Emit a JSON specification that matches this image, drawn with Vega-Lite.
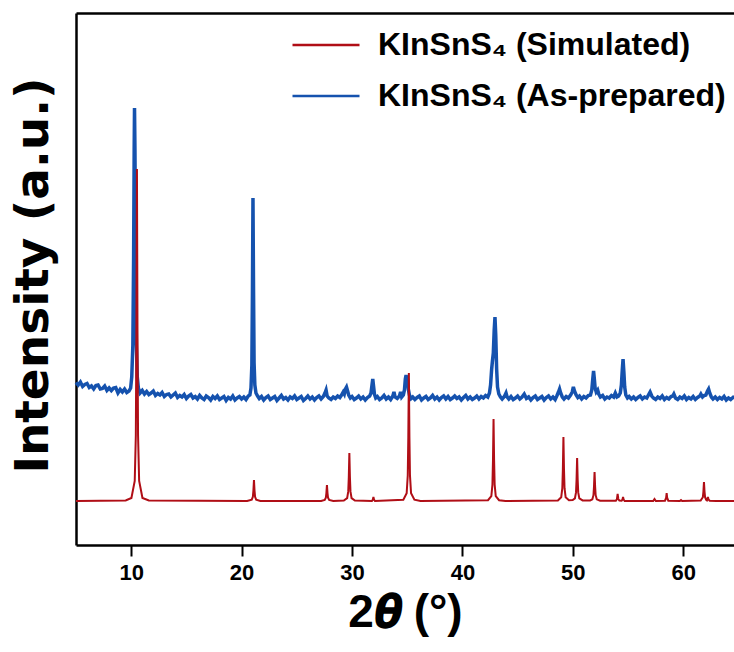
{
"$schema": "https://vega.github.io/schema/vega-lite/v6.json",
"width": 658,
"height": 532,
"autosize": {"type": "none"},
"padding": {"left": 76, "top": 13, "right": 0, "bottom": 107},
"background": "white",
"config": {"view": {"stroke": null}},
"datasets": {
"blue": [
{"x":5.0,"y":162.5},{"x":5.2,"y":160},{"x":5.4,"y":163},{"x":5.6,"y":158.5},{"x":5.8,"y":160.5},{"x":6.0,"y":161.5},{"x":6.2,"y":157.5},{"x":6.4,"y":159},{"x":6.6,"y":156},{"x":6.8,"y":159.5},{"x":7.0,"y":160},{"x":7.2,"y":156},{"x":7.4,"y":156.5},{"x":7.6,"y":159},{"x":7.8,"y":154.5},{"x":8.0,"y":157},{"x":8.2,"y":154.5},{"x":8.4,"y":157},{"x":8.6,"y":157.5},{"x":8.8,"y":152},{"x":9.0,"y":155.5},{"x":9.2,"y":153},{"x":9.4,"y":156},{"x":9.6,"y":152.5},{"x":9.8,"y":154},{"x":9.95,"y":157},
{"x":10.05,"y":168},{"x":10.15,"y":200},{"x":10.22,"y":290},{"x":10.27,"y":395},{"x":10.3,"y":437},{"x":10.34,"y":395},{"x":10.4,"y":290},{"x":10.47,"y":200},{"x":10.55,"y":168},{"x":10.65,"y":157},
{"x":10.8,"y":152},{"x":11.0,"y":154.5},{"x":11.2,"y":151},{"x":11.4,"y":153.5},{"x":11.6,"y":150.5},{"x":11.8,"y":152},{"x":12.0,"y":154},{"x":12.2,"y":149.5},{"x":12.4,"y":151.5},{"x":12.6,"y":150},{"x":12.8,"y":152.5},{"x":13.0,"y":148.5},{"x":13.2,"y":150.5},{"x":13.4,"y":151},{"x":13.6,"y":148},{"x":13.8,"y":150},{"x":14.0,"y":152},{"x":14.2,"y":147.5},{"x":14.4,"y":149.5},{"x":14.6,"y":148},{"x":14.8,"y":150.5},{"x":15.0,"y":146.5},{"x":15.2,"y":149},{"x":15.4,"y":150.5},{"x":15.6,"y":147},{"x":15.8,"y":148.5},{"x":16.0,"y":146},{"x":16.2,"y":149.5},{"x":16.4,"y":147},{"x":16.6,"y":145.5},{"x":16.8,"y":149},{"x":17.0,"y":147.5},{"x":17.2,"y":145},{"x":17.4,"y":148.5},{"x":17.6,"y":146.5},{"x":17.8,"y":149},{"x":18.0,"y":145.5},{"x":18.2,"y":147},{"x":18.4,"y":148.5},{"x":18.6,"y":144.5},{"x":18.8,"y":147.5},{"x":19.0,"y":146},{"x":19.2,"y":149},{"x":19.4,"y":145},{"x":19.6,"y":147},{"x":19.8,"y":148.5},{"x":20.0,"y":146},{"x":20.2,"y":148},{"x":20.4,"y":145.5},{"x":20.6,"y":149},{"x":20.75,"y":150},
{"x":20.85,"y":157},{"x":20.93,"y":180},{"x":20.98,"y":250},{"x":21.03,"y":347},{"x":21.08,"y":255},{"x":21.13,"y":182},{"x":21.2,"y":160},{"x":21.3,"y":152},
{"x":21.45,"y":149},{"x":21.6,"y":146.5},{"x":21.8,"y":148.5},{"x":22.0,"y":145},{"x":22.2,"y":147.5},{"x":22.4,"y":149},{"x":22.6,"y":145.5},{"x":22.8,"y":147},{"x":23.0,"y":148.5},{"x":23.2,"y":144.5},{"x":23.4,"y":147},{"x":23.6,"y":149.5},{"x":23.8,"y":146},{"x":24.0,"y":147.5},{"x":24.2,"y":145},{"x":24.4,"y":148},{"x":24.6,"y":146.5},{"x":24.8,"y":149},{"x":25.0,"y":145.5},{"x":25.2,"y":147},{"x":25.4,"y":148.5},{"x":25.6,"y":144.5},{"x":25.8,"y":146.5},{"x":26.0,"y":149},{"x":26.2,"y":146},{"x":26.4,"y":148},{"x":26.6,"y":145},{"x":26.8,"y":147.5},{"x":27.0,"y":149},{"x":27.2,"y":146},{"x":27.4,"y":148.5},{"x":27.55,"y":152},{"x":27.65,"y":155},{"x":27.75,"y":149},{"x":27.9,"y":147},{"x":28.1,"y":145.5},{"x":28.3,"y":148},{"x":28.5,"y":146.5},{"x":28.7,"y":149},{"x":28.9,"y":147.5},{"x":29.05,"y":150},{"x":29.2,"y":153},{"x":29.3,"y":151},{"x":29.4,"y":156},{"x":29.5,"y":158},{"x":29.6,"y":154},{"x":29.7,"y":150},{"x":29.85,"y":147},{"x":30.0,"y":148.5},{"x":30.2,"y":145.5},{"x":30.4,"y":147},{"x":30.6,"y":149},{"x":30.8,"y":146},{"x":31.0,"y":148},{"x":31.2,"y":145},{"x":31.4,"y":147.5},{"x":31.6,"y":149},{"x":31.72,"y":152},{"x":31.8,"y":159},{"x":31.88,"y":166},{"x":31.95,"y":159},{"x":32.03,"y":151},{"x":32.15,"y":147},{"x":32.3,"y":148.5},{"x":32.5,"y":145.5},{"x":32.7,"y":147},{"x":32.9,"y":149.5},{"x":33.1,"y":146},{"x":33.3,"y":148},{"x":33.5,"y":145.5},{"x":33.7,"y":149},{"x":33.8,"y":153},{"x":33.9,"y":148},{"x":34.1,"y":146.5},{"x":34.3,"y":149},{"x":34.4,"y":153},{"x":34.5,"y":148},{"x":34.65,"y":150},{"x":34.75,"y":155},{"x":34.83,"y":166},{"x":34.9,"y":170},{"x":34.97,"y":164},{"x":35.03,"y":166},{"x":35.1,"y":156},{"x":35.2,"y":150},{"x":35.35,"y":146.5},{"x":35.5,"y":148},{"x":35.7,"y":145.5},{"x":35.9,"y":147.5},{"x":36.1,"y":149},{"x":36.3,"y":145},{"x":36.5,"y":147},{"x":36.7,"y":148.5},{"x":36.9,"y":145.5},{"x":37.1,"y":147},{"x":37.3,"y":149.5},{"x":37.5,"y":146},{"x":37.7,"y":148},{"x":37.9,"y":145},{"x":38.1,"y":147.5},{"x":38.3,"y":149},{"x":38.5,"y":146},{"x":38.7,"y":148.5},{"x":38.9,"y":145.5},{"x":39.1,"y":147},{"x":39.3,"y":149},{"x":39.5,"y":146.5},{"x":39.7,"y":148},{"x":39.9,"y":145},{"x":40.1,"y":147.5},{"x":40.3,"y":149.5},{"x":40.5,"y":146},{"x":40.7,"y":148},{"x":40.9,"y":145.5},{"x":41.1,"y":147},{"x":41.3,"y":149},{"x":41.5,"y":146},{"x":41.7,"y":148.5},{"x":41.9,"y":147},{"x":42.1,"y":149.5},{"x":42.3,"y":148},{"x":42.45,"y":152},{"x":42.55,"y":160},{"x":42.65,"y":176},{"x":42.72,"y":184},{"x":42.8,"y":192},{"x":42.88,"y":215},{"x":42.95,"y":228},{"x":43.02,"y":210},{"x":43.1,"y":176},{"x":43.18,"y":158},{"x":43.3,"y":151},{"x":43.45,"y":148},{"x":43.6,"y":146},{"x":43.8,"y":148.5},{"x":43.95,"y":152},{"x":44.05,"y":148},{"x":44.2,"y":146},{"x":44.4,"y":148.5},{"x":44.6,"y":145.5},{"x":44.8,"y":147},{"x":45.0,"y":149},{"x":45.2,"y":146},{"x":45.4,"y":148},{"x":45.6,"y":151},{"x":45.8,"y":146.5},{"x":46.0,"y":148},{"x":46.2,"y":145},{"x":46.4,"y":147.5},{"x":46.6,"y":149},{"x":46.8,"y":145.5},{"x":47.0,"y":147},{"x":47.2,"y":148.5},{"x":47.4,"y":145},{"x":47.6,"y":147.5},{"x":47.8,"y":149},{"x":48.0,"y":146},{"x":48.2,"y":148},{"x":48.4,"y":145.5},{"x":48.55,"y":149},{"x":48.7,"y":153},{"x":48.8,"y":156},{"x":48.9,"y":152},{"x":49.05,"y":148},{"x":49.2,"y":146},{"x":49.4,"y":148.5},{"x":49.6,"y":147},{"x":49.8,"y":150},{"x":49.95,"y":153},{"x":50.05,"y":158},{"x":50.15,"y":154},{"x":50.3,"y":150},{"x":50.45,"y":147.5},{"x":50.6,"y":149},{"x":50.8,"y":146},{"x":51.0,"y":148.5},{"x":51.2,"y":147},{"x":51.4,"y":149.5},{"x":51.6,"y":150},{"x":51.72,"y":155},{"x":51.8,"y":165},{"x":51.88,"y":174},{"x":51.95,"y":166},{"x":52.02,"y":157},{"x":52.12,"y":153},{"x":52.25,"y":155},{"x":52.35,"y":151},{"x":52.5,"y":148},{"x":52.7,"y":149.5},{"x":52.9,"y":146},{"x":53.1,"y":148},{"x":53.3,"y":147},{"x":53.5,"y":149.5},{"x":53.7,"y":148},{"x":53.85,"y":152},{"x":54.0,"y":148},{"x":54.15,"y":149},{"x":54.3,"y":152},{"x":54.4,"y":160},{"x":54.48,"y":175},{"x":54.55,"y":186},{"x":54.62,"y":174},{"x":54.7,"y":158},{"x":54.8,"y":150},{"x":54.95,"y":147},{"x":55.1,"y":148.5},{"x":55.3,"y":146},{"x":55.5,"y":148},{"x":55.7,"y":145.5},{"x":55.9,"y":147.5},{"x":56.1,"y":149},{"x":56.3,"y":146},{"x":56.5,"y":148},{"x":56.7,"y":147},{"x":56.85,"y":150},{"x":57.0,"y":153},{"x":57.15,"y":149},{"x":57.3,"y":147},{"x":57.5,"y":145.5},{"x":57.7,"y":148},{"x":57.9,"y":146.5},{"x":58.1,"y":149},{"x":58.3,"y":145.5},{"x":58.5,"y":147.5},{"x":58.7,"y":146},{"x":58.9,"y":148.5},{"x":59.05,"y":149},{"x":59.15,"y":151},{"x":59.3,"y":147},{"x":59.5,"y":145.5},{"x":59.7,"y":148},{"x":59.9,"y":146.5},{"x":60.1,"y":149},{"x":60.3,"y":145.5},{"x":60.5,"y":147.5},{"x":60.7,"y":146},{"x":60.9,"y":148.5},{"x":61.1,"y":145.5},{"x":61.3,"y":147.5},{"x":61.5,"y":149},{"x":61.6,"y":151},{"x":61.75,"y":148},{"x":61.9,"y":149.5},{"x":62.05,"y":150},{"x":62.2,"y":154},{"x":62.3,"y":156},{"x":62.4,"y":152},{"x":62.55,"y":148},{"x":62.7,"y":146},{"x":62.9,"y":148},{"x":63.1,"y":145.5},{"x":63.3,"y":147.5},{"x":63.5,"y":146},{"x":63.7,"y":148.5},{"x":63.9,"y":145},{"x":64.1,"y":147},{"x":64.3,"y":145.5},{"x":64.5,"y":147.5},{"x":64.6,"y":146}
],
"red": [
{"x":5.0,"y":44},{"x":9.5,"y":44.5},{"x":10.02,"y":47},{"x":10.32,"y":64},{"x":10.42,"y":110},{"x":10.47,"y":210},{"x":10.52,"y":376},{"x":10.57,"y":210},{"x":10.62,"y":110},{"x":10.72,"y":64},{"x":11.02,"y":47},{"x":11.6,"y":44.5},
{"x":20.5,"y":44},{"x":20.92,"y":45.3},{"x":21.02,"y":48.2},{"x":21.07,"y":54.5},{"x":21.12,"y":65},{"x":21.17,"y":54.5},{"x":21.22,"y":48.2},{"x":21.32,"y":45.3},{"x":21.7,"y":44},
{"x":27.2,"y":44},{"x":27.53,"y":45},{"x":27.63,"y":47.2},{"x":27.68,"y":52},{"x":27.73,"y":60},{"x":27.78,"y":52},{"x":27.83,"y":47.2},{"x":27.93,"y":45},{"x":28.3,"y":44},
{"x":29.26,"y":44.5},{"x":29.56,"y":46.9},{"x":29.66,"y":53.6},{"x":29.71,"y":68},{"x":29.76,"y":92},{"x":29.81,"y":68},{"x":29.86,"y":53.6},{"x":29.96,"y":46.9},{"x":30.26,"y":44.5},
{"x":31.8,"y":44},{"x":31.89,"y":45.5},{"x":31.94,"y":48},{"x":31.99,"y":45.5},{"x":32.08,"y":44},
{"x":34.65,"y":45.3},{"x":34.95,"y":51.7},{"x":35.05,"y":69.6},{"x":35.1,"y":108},{"x":35.15,"y":172},{"x":35.2,"y":108},{"x":35.25,"y":69.6},{"x":35.35,"y":51.7},{"x":35.65,"y":45.3},{"x":36.2,"y":44},
{"x":42.32,"y":44.8},{"x":42.62,"y":48.9},{"x":42.72,"y":60.4},{"x":42.77,"y":85},{"x":42.82,"y":126},{"x":42.87,"y":85},{"x":42.92,"y":60.4},{"x":43.02,"y":48.9},{"x":43.32,"y":44.8},{"x":43.9,"y":44},
{"x":48.65,"y":44.6},{"x":48.95,"y":47.8},{"x":49.05,"y":56.8},{"x":49.1,"y":76},{"x":49.15,"y":108},{"x":49.2,"y":76},{"x":49.25,"y":56.8},{"x":49.35,"y":47.8},{"x":49.65,"y":44.8},
{"x":49.99,"y":45},{"x":50.19,"y":46.6},{"x":50.29,"y":52.6},{"x":50.34,"y":65.5},{"x":50.39,"y":87},{"x":50.44,"y":65.5},{"x":50.49,"y":52.6},{"x":50.59,"y":46.6},{"x":50.89,"y":44.6},
{"x":51.57,"y":44.6},{"x":51.77,"y":45.7},{"x":51.87,"y":49.8},{"x":51.92,"y":58.5},{"x":51.97,"y":73},{"x":52.02,"y":58.5},{"x":52.07,"y":49.8},{"x":52.17,"y":45.7},{"x":52.47,"y":44.3},
{"x":53.9,"y":44.2},{"x":54.0,"y":46},{"x":54.06,"y":51},{"x":54.12,"y":46},{"x":54.22,"y":44.5},
{"x":54.42,"y":44.3},{"x":54.5,"y":45.5},{"x":54.55,"y":48},{"x":54.6,"y":45.5},{"x":54.7,"y":44},
{"x":57.28,"y":44},{"x":57.4,"y":46},{"x":57.52,"y":44},
{"x":58.35,"y":44.3},{"x":58.45,"y":47},{"x":58.5,"y":52},{"x":58.55,"y":47},{"x":58.65,"y":44.3},
{"x":59.7,"y":44},{"x":59.8,"y":45},{"x":59.9,"y":44},
{"x":61.58,"y":44.5},{"x":61.78,"y":47.8},{"x":61.83,"y":53.5},{"x":61.88,"y":63},{"x":61.93,"y":53.5},{"x":61.98,"y":47.8},{"x":62.08,"y":45.2},
{"x":62.15,"y":44.6},{"x":62.2,"y":46},{"x":62.24,"y":48},{"x":62.29,"y":45.5},{"x":62.4,"y":44.3},{"x":63.0,"y":44},{"x":64.6,"y":44}
]
},
"layer": [
{
"data": {"name": "blue"},
"mark": {"type": "line", "strokeWidth": 3.5, "interpolate": "linear"},
"encoding": {
"x": {"field": "x", "type": "quantitative",
"scale": {"domain": [5, 64.6], "nice": false, "zero": false},
"axis": {"orient": "bottom", "values": [10, 20, 30, 40, 50, 60], "grid": false,
"domainColor": "black", "domainWidth": 2.5, "tickColor": "black", "tickWidth": 2, "tickSize": 11,
"labelFont": "Liberation Sans", "labelFontSize": 22, "labelFontWeight": "bold", "labelColor": "black", "labelPadding": 6,
"title": "2𝜽 (°)", "titleFont": "Liberation Sans", "titleFontSize": 46, "titleFontWeight": "bold", "titleColor": "black",
"titleBaseline": "alphabetic", "titleY": 81}},
"y": {"field": "y", "type": "quantitative",
"scale": {"domain": [0, 532], "nice": false, "zero": false},
"axis": {"orient": "left", "labels": false, "ticks": false, "grid": false,
"domainColor": "black", "domainWidth": 2.5,
"title": "Intensity (a.u.)", "titleFont": "DejaVu Sans", "titleFontSize": 47, "titleFontWeight": "bold", "titleColor": "black",
"titleAngle": -90, "titleAlign": "center", "titleBaseline": "alphabetic", "titleX": -29, "titleY": 262}},
"color": {"datum": "KInSnS₄ (As-prepared)", "type": "nominal",
"scale": {"domain": ["KInSnS₄ (Simulated)", "KInSnS₄ (As-prepared)"], "range": ["#B00E16", "#1552AE"]},
"legend": {"orient": "none", "legendX": 215, "legendY": -3, "title": null, "padding": 0,
"symbolType": "stroke", "symbolSize": 4489, "symbolStrokeWidth": 2.5,
"labelFont": "Liberation Sans", "labelFontSize": 32, "labelFontWeight": "bold", "labelColor": "black",
"labelOffset": 17, "rowPadding": -6, "labelLimit": 500}}
}
},
{
"data": {"name": "red"},
"mark": {"type": "line", "strokeWidth": 2, "interpolate": "linear"},
"encoding": {
"x": {"field": "x", "type": "quantitative",
"scale": {"domain": [5, 64.6], "nice": false, "zero": false},
"axis": {"orient": "top", "labels": false, "ticks": false, "grid": false, "domainColor": "black", "domainWidth": 2.5, "title": null}},
"y": {"field": "y", "type": "quantitative", "scale": {"domain": [0, 532], "nice": false, "zero": false}},
"color": {"datum": "KInSnS₄ (Simulated)", "type": "nominal"}
}
}
],
"resolve": {"axis": {"x": "independent"}}
}
